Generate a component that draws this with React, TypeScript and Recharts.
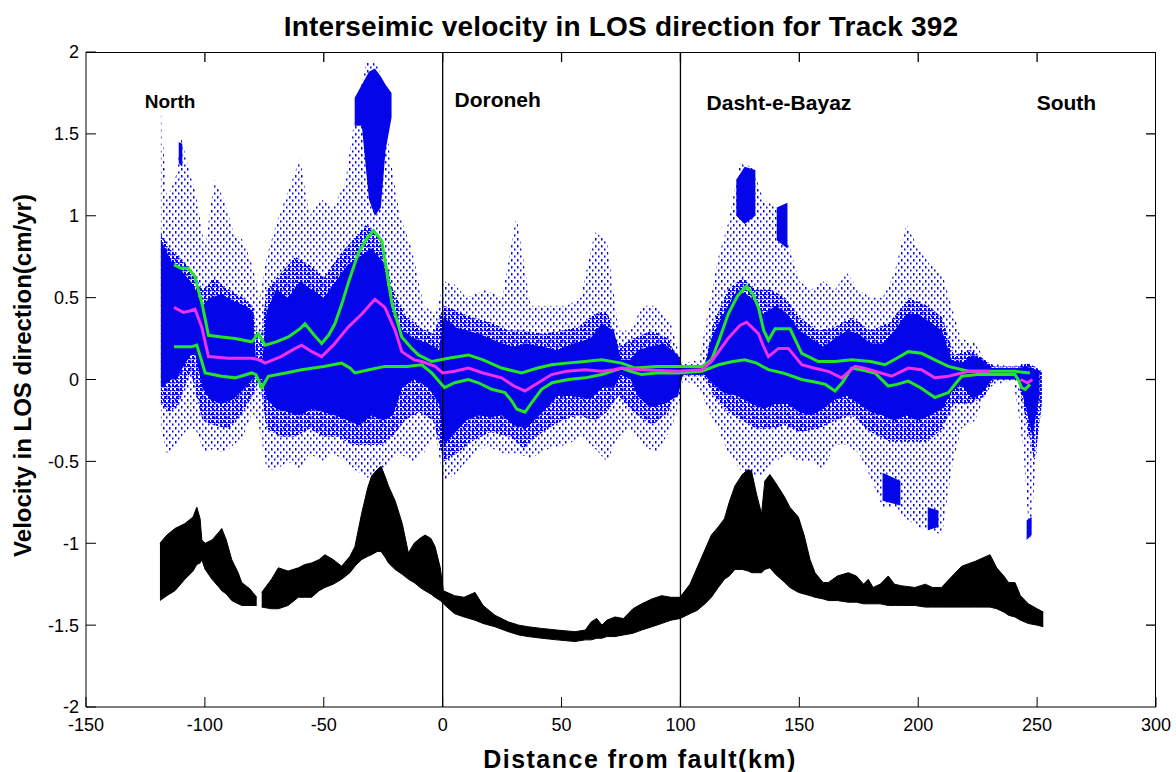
import {
  ComposedChart,
  Area,
  Line,
  XAxis,
  YAxis,
  ReferenceLine,
  ReferenceDot,
} from 'recharts'

// [x km, low, high] for filled bands, [x km, y] for the profile lines
type Band = [number, number, number]
type Pt = [number, number]

const TITLE = 'Interseimic velocity in LOS direction for Track 392'
const X_LABEL = 'Distance from fault(km)'
const Y_LABEL = 'Velocity in LOS direction(cm/yr)'

const xTicks = [-150, -100, -50, 0, 50, 100, 150, 200, 250, 300]
const yTicks = [-2, -1.5, -1, -0.5, 0, 0.5, 1, 1.5, 2]
const X_DOMAIN: [number, number] = [-150, 300]
const Y_DOMAIN: [number, number] = [-2, 2]
const faultLines = [0, 100]

const regionLabels = [
  { name: 'North', x: -125.3, y: 1.7, size: 19 },
  { name: 'Doroneh', x: 5, y: 1.71, size: 21 },
  { name: 'Dasht-e-Bayaz', x: 111, y: 1.69, size: 21 },
  { name: 'South', x: 249.8, y: 1.69, size: 21 },
]

// scattered LOS pixels, outer envelope (sparse dots)
const sparseCloud: Band[] = [
  [-118.5, -0.3, 1.65], [-116, -0.45, 1.1], [-112, -0.4, 1.25], [-110, -0.35, 1.48],
  [-107, -0.3, 1.3], [-104, -0.3, 1.15], [-100, -0.45, 0.8], [-96, -0.42, 1.22],
  [-92, -0.45, 1.1], [-88, -0.4, 0.9], [-84, -0.35, 0.85], [-80, -0.2, 0.7],
  [-77, -0.3, 0.5], [-74, -0.55, 0.75], [-70, -0.55, 0.95], [-65, -0.5, 1.15],
  [-60, -0.55, 1.35], [-56, -0.45, 1.0], [-51, -0.5, 1.1], [-46, -0.45, 1.05],
  [-41, -0.5, 1.2], [-37, -0.55, 1.6], [-32, -0.6, 1.95], [-27, -0.58, 1.92],
  [-22, -0.5, 1.35], [-18, -0.45, 1.0], [-13, -0.5, 0.8], [-8, -0.45, 0.45],
  [-3, -0.35, 0.4], [0.5, -0.62, 0.6], [5, -0.58, 0.58], [10, -0.5, 0.5],
  [18, -0.4, 0.55], [25, -0.45, 0.5], [31, -0.45, 1.0], [37, -0.48, 0.45],
  [45, -0.42, 0.45], [52, -0.4, 0.45], [58, -0.35, 0.5], [64, -0.42, 0.9],
  [69, -0.5, 0.85], [74, -0.35, 0.3], [79, -0.3, 0.3], [84, -0.4, 0.45],
  [90, -0.45, 0.45], [96, -0.3, 0.35], [99.5, -0.15, 0.15], [101, 0, 0.1],
  [108, -0.05, 0.12], [112, -0.2, 0.45], [116, -0.3, 0.75], [120, -0.45, 0.95],
  [125, -0.55, 1.32], [130, -0.6, 1.3], [135, -0.58, 1.1], [140, -0.5, 1.05],
  [145, -0.45, 0.85], [150, -0.5, 0.6], [155, -0.5, 0.55], [160, -0.55, 0.6],
  [165, -0.4, 0.55], [170, -0.4, 0.65], [175, -0.45, 0.55], [180, -0.6, 0.5],
  [185, -0.78, 0.5], [190, -0.78, 0.65], [195, -0.85, 0.95], [200, -0.9, 0.8],
  [205, -0.92, 0.7], [210, -0.95, 0.65], [214, -0.55, 0.45], [218, -0.3, 0.25],
  [224, -0.25, 0.22], [229, -0.05, 0.1], [240, 0, 0.08], [244, -0.4, 0.1],
  [247, -1.0, 0.1], [250, -0.4, 0.06], [252, -0.1, 0.05],
]

// middle-density part of the cloud
const midCloud: Band[] = [
  [-118.5, -0.15, 0.9], [-115, -0.2, 0.8], [-111, -0.15, 0.75], [-106, 0.05, 0.68],
  [-101, -0.25, 0.55], [-96, -0.28, 0.62], [-90, -0.3, 0.55], [-84, -0.2, 0.5],
  [-80, -0.1, 0.45], [-77, 0, 0.2], [-74, -0.3, 0.55], [-68, -0.35, 0.65],
  [-62, -0.35, 0.75], [-56, -0.3, 0.7], [-50, -0.35, 0.62], [-44, -0.35, 0.75],
  [-38, -0.4, 0.85], [-32, -0.4, 0.95], [-26, -0.4, 0.85], [-21, -0.35, 0.55],
  [-16, -0.25, 0.4], [-10, -0.2, 0.32], [-4, -0.25, 0.28], [0.5, -0.5, 0.45],
  [6, -0.45, 0.42], [12, -0.38, 0.38], [20, -0.32, 0.35], [28, -0.35, 0.3],
  [34, -0.42, 0.3], [42, -0.32, 0.28], [50, -0.25, 0.3], [57, -0.22, 0.32],
  [64, -0.25, 0.4], [69, -0.2, 0.42], [74, -0.1, 0.2], [80, -0.2, 0.25],
  [88, -0.28, 0.3], [95, -0.2, 0.25], [100, 0.02, 0.08], [110, 0.02, 0.08],
  [114, -0.1, 0.35], [120, -0.2, 0.55], [126, -0.25, 0.62], [132, -0.3, 0.55],
  [138, -0.3, 0.55], [144, -0.28, 0.5], [150, -0.32, 0.38], [158, -0.3, 0.3],
  [165, -0.25, 0.32], [172, -0.22, 0.38], [180, -0.32, 0.3], [188, -0.38, 0.35],
  [196, -0.38, 0.5], [204, -0.38, 0.45], [210, -0.3, 0.38], [215, -0.15, 0.15],
  [222, -0.15, 0.18], [228, -0.1, 0.12], [232, 0, 0.08], [242, 0, 0.08],
  [246, -0.3, 0.1], [249, -0.5, 0.08], [252, -0.15, 0.05],
]

// dense core of the cloud
const denseCloud: Band[] = [
  [-118.5, -0.05, 0.85], [-116, -0.02, 0.78], [-114, 0, 0.72], [-112, 0, 0.7],
  [-109, 0.08, 0.65], [-106, 0.15, 0.6], [-104, 0.15, 0.55], [-101, -0.05, 0.45],
  [-98, -0.12, 0.5], [-93, -0.15, 0.52], [-88, -0.12, 0.48], [-83, -0.05, 0.45],
  [-80, 0, 0.42], [-78.5, 0.02, 0.12], [-76, 0, 0.1], [-74, -0.12, 0.42],
  [-70, -0.18, 0.55], [-65, -0.2, 0.5], [-60, -0.22, 0.6], [-55, -0.18, 0.55],
  [-50, -0.2, 0.5], [-45, -0.22, 0.6], [-40, -0.25, 0.7], [-35, -0.28, 0.75],
  [-30, -0.22, 0.8], [-25, -0.25, 0.72], [-21, -0.22, 0.4], [-17, -0.05, 0.3],
  [-12, 0, 0.25], [-6, -0.05, 0.22], [-1.5, -0.15, 0.18], [0.5, -0.4, 0.38],
  [5, -0.33, 0.32], [10, -0.25, 0.3], [15, -0.22, 0.28], [20, -0.23, 0.25],
  [25, -0.22, 0.22], [30, -0.28, 0.2], [35, -0.3, 0.22], [42, -0.2, 0.2],
  [48, -0.1, 0.18], [55, -0.1, 0.22], [62, -0.12, 0.25], [67, -0.05, 0.34],
  [72, -0.05, 0.3], [75, 0.03, 0.12], [79, 0, 0.12], [82, -0.1, 0.18],
  [87, -0.17, 0.2], [93, -0.15, 0.22], [99, -0.1, 0.15], [101, 0.03, 0.07],
  [110, 0.03, 0.07], [113, -0.02, 0.25], [118, -0.08, 0.4], [124, -0.1, 0.55],
  [130, -0.15, 0.5], [135, -0.18, 0.4], [140, -0.15, 0.45], [145, -0.15, 0.4],
  [150, -0.2, 0.3], [155, -0.22, 0.25], [160, -0.18, 0.2], [165, -0.12, 0.25],
  [170, -0.1, 0.3], [175, -0.15, 0.28], [180, -0.2, 0.22], [185, -0.22, 0.22],
  [190, -0.25, 0.3], [195, -0.22, 0.4], [200, -0.25, 0.4], [205, -0.22, 0.35],
  [210, -0.18, 0.3], [214, -0.08, 0.12], [218, -0.03, 0.1], [223, -0.12, 0.15],
  [227, -0.08, 0.12], [231, 0, 0.07], [242, 0, 0.07], [245, -0.15, 0.08],
  [248, -0.35, 0.07], [251, -0.1, 0.05],
]

// isolated dense clumps of pixels
const clumpNorth: Band[] = [[-111, 1.32, 1.45], [-109.5, 1.3, 1.44]]
const clumpHigh: Band[] = [
  [-37, 1.55, 1.72], [-34, 1.55, 1.8], [-31, 1.1, 1.88], [-28.5, 1.0, 1.9],
  [-26, 1.05, 1.85], [-24, 1.4, 1.8], [-21.5, 1.6, 1.75],
]
const clumpBayazA: Band[] = [[123.5, 1.0, 1.22], [127, 0.95, 1.3], [131.5, 1.0, 1.28]]
const clumpBayazB: Band[] = [[140.5, 0.85, 1.05], [145, 0.8, 1.08]]
const clumpSouthA: Band[] = [[185, -0.74, -0.57], [192.5, -0.77, -0.62]]
const clumpSouthB: Band[] = [[204, -0.92, -0.78], [208.5, -0.9, -0.8]]
const clumpSouthC: Band[] = [[245.6, -0.98, -0.86], [247.7, -0.95, -0.84]]
const clumps = [clumpNorth, clumpHigh, clumpBayazA, clumpBayazB, clumpSouthA, clumpSouthB, clumpSouthC]

// topography profile (black), with a gap near -77 km
const topoWest: Band[] = [
  [-118.9, -1.35, -1.0], [-116, -1.32, -0.95], [-112.6, -1.29, -0.91], [-108.4, -1.22, -0.88],
  [-105, -1.17, -0.84], [-103.4, -1.13, -0.78], [-102, -1.12, -0.85], [-101.3, -1.1, -0.98],
  [-99.9, -1.16, -1.0], [-97, -1.22, -0.98], [-94, -1.27, -0.93], [-92.9, -1.29, -0.91],
  [-91, -1.31, -0.98], [-88.7, -1.35, -1.1], [-86, -1.37, -1.18], [-84.5, -1.38, -1.24],
  [-81, -1.38, -1.28], [-78.2, -1.38, -1.33],
]
const topoMain: Band[] = [
  [-76.1, -1.39, -1.3], [-72, -1.4, -1.22], [-69.1, -1.4, -1.15], [-65, -1.38, -1.17],
  [-60.7, -1.33, -1.15], [-58, -1.33, -1.13], [-55.1, -1.33, -1.12], [-52, -1.29, -1.1],
  [-49.5, -1.27, -1.07], [-46, -1.25, -1.1], [-42.5, -1.22, -1.14], [-39, -1.18, -1.08],
  [-36.9, -1.14, -1.02], [-34.1, -1.1, -0.82], [-31.5, -1.08, -0.66], [-29.9, -1.07, -0.59],
  [-27.5, -1.05, -0.55], [-25.9, -1.05, -0.53], [-24, -1.09, -0.6], [-22.8, -1.12, -0.65],
  [-20, -1.16, -0.74], [-17, -1.19, -0.88], [-14.4, -1.22, -1.06], [-12, -1.24, -1.0],
  [-9.5, -1.27, -0.97], [-7.4, -1.29, -0.95], [-5, -1.31, -0.97], [-3.2, -1.33, -1.02],
  [-1, -1.35, -1.15], [0.3, -1.37, -1.29], [5, -1.43, -1.32], [9, -1.45, -1.33],
  [13.6, -1.47, -1.3], [17, -1.49, -1.38], [22, -1.51, -1.44], [27.6, -1.54, -1.48],
  [32, -1.56, -1.5], [36, -1.57, -1.51], [41.6, -1.58, -1.52], [48, -1.59, -1.53],
  [55.6, -1.6, -1.54], [60, -1.59, -1.53], [62.5, -1.59, -1.48], [64.8, -1.58, -1.46],
  [67, -1.58, -1.5], [69, -1.57, -1.47], [72.5, -1.57, -1.45], [76, -1.56, -1.46],
  [80, -1.55, -1.4], [83.7, -1.53, -1.37], [88, -1.51, -1.34], [92.1, -1.49, -1.32],
  [96, -1.47, -1.33], [99.8, -1.46, -1.33], [104, -1.43, -1.25], [107, -1.41, -1.15],
  [110.3, -1.37, -1.04], [113, -1.33, -0.95], [115.9, -1.27, -0.9], [118.5, -1.22, -0.85],
  [120.5, -1.2, -0.75], [122.9, -1.16, -0.65], [126, -1.16, -0.58], [128.5, -1.17, -0.55],
  [129.9, -1.18, -0.56], [132, -1.18, -0.7], [134.1, -1.18, -0.82], [135.5, -1.16, -0.62],
  [137.6, -1.15, -0.58], [140, -1.19, -0.63], [143.9, -1.24, -0.72], [146, -1.27, -0.78],
  [149.6, -1.3, -0.84], [152, -1.31, -0.95], [154.5, -1.32, -1.1], [156.6, -1.33, -1.18],
  [160, -1.34, -1.24], [162.2, -1.35, -1.24], [166, -1.35, -1.2], [170.6, -1.36, -1.18],
  [174, -1.36, -1.2], [177, -1.37, -1.25], [179, -1.37, -1.22], [181, -1.37, -1.27],
  [184, -1.37, -1.25], [187.4, -1.38, -1.2], [190, -1.38, -1.25], [193, -1.38, -1.26],
  [198.6, -1.38, -1.27], [203, -1.39, -1.25], [206, -1.39, -1.27], [209.8, -1.39, -1.27],
  [213, -1.39, -1.22], [218.3, -1.39, -1.14], [224, -1.39, -1.11], [230.2, -1.39, -1.07],
  [233, -1.4, -1.15], [236, -1.42, -1.2], [238, -1.44, -1.24], [240.7, -1.45, -1.24],
  [243, -1.47, -1.32], [246.3, -1.49, -1.37], [250, -1.5, -1.4], [252.6, -1.51, -1.42],
]

// green envelope, upper and lower
const greenUpper: Pt[] = [
  [-113, 0.7], [-110, 0.68], [-107, 0.68], [-104.2, 0.63], [-101, 0.45], [-98.5, 0.27],
  [-93, 0.26], [-87.3, 0.25], [-80.3, 0.23], [-77.5, 0.28], [-74.7, 0.21], [-70, 0.23],
  [-64.9, 0.26], [-60, 0.31], [-57.9, 0.34], [-54, 0.27], [-50.9, 0.22], [-48, 0.27],
  [-45.3, 0.34], [-42, 0.48], [-39.7, 0.59], [-35.5, 0.77], [-32, 0.86], [-29.1, 0.91],
  [-25.7, 0.85], [-23.5, 0.66], [-21.4, 0.47], [-17.2, 0.26], [-13, 0.19], [-10.2, 0.15],
  [-4.6, 0.11], [2.4, 0.13], [10.8, 0.15], [17, 0.12], [24.8, 0.07], [33.2, 0.04],
  [40, 0.07], [45.8, 0.09], [52, 0.1], [59.8, 0.11], [66.9, 0.12], [75.3, 0.1],
  [80.9, 0.07], [90, 0.08], [99.1, 0.08], [109, 0.08], [113.1, 0.12], [116.5, 0.25],
  [120.1, 0.4], [124, 0.51], [127.8, 0.57], [130.5, 0.52], [132.8, 0.44], [135, 0.3],
  [137, 0.24], [139.8, 0.31], [146.1, 0.31], [151, 0.16], [158, 0.11], [165, 0.11],
  [172, 0.12], [180, 0.11], [186, 0.09], [191, 0.13], [195.8, 0.17], [201.4, 0.16],
  [207, 0.12], [212.7, 0.08], [221.1, 0.05], [230, 0.05], [240.7, 0.05], [247, 0.04],
]
const greenLower: Pt[] = [
  [-113, 0.2], [-108, 0.2], [-105.5, 0.2], [-103.4, 0.21], [-101.5, 0.12], [-99.9, 0.04],
  [-93, 0.02], [-87.3, 0.01], [-80.3, 0.04], [-78.5, 0.03], [-76.1, -0.05], [-73.3, 0.02],
  [-66, 0.04], [-59.3, 0.06], [-50, 0.08], [-42.5, 0.1], [-39, 0.07], [-36.9, 0.04],
  [-31, 0.06], [-24.3, 0.08], [-15, 0.08], [-8.8, 0.09], [-4.6, 0.04], [0.8, -0.05],
  [5, -0.02], [10.8, 0], [15, -0.02], [20.6, -0.06], [26.2, -0.08], [29, -0.13],
  [31.1, -0.18], [34.6, -0.2], [37, -0.15], [41.6, -0.06], [46, -0.02], [52.9, 0],
  [60, 0.01], [66.9, 0.03], [71, 0.05], [75.3, 0.07], [79, 0.05], [83.7, 0.03],
  [90, 0.04], [99.1, 0.04], [109, 0.05], [116, 0.09], [122, 0.11], [127.1, 0.12],
  [132, 0.1], [137, 0.06], [143, 0.04], [151, 0], [158, -0.02], [161, -0.03],
  [165, -0.07], [168, -0.02], [172, 0.07], [176, 0.06], [181.8, 0.04], [187.4, -0.04],
  [191, -0.03], [195.8, -0.01], [201, -0.05], [207, -0.11], [212.7, -0.08], [216, -0.02],
  [218.3, 0.02], [225, 0.03], [240.7, 0.03], [242, 0], [243.5, -0.05], [245, -0.06],
  [247, -0.03],
]

// magenta running mean
const magentaMean: Pt[] = [
  [-113, 0.44], [-109, 0.41], [-106, 0.42], [-104.2, 0.43], [-101.3, 0.32], [-98.5, 0.14],
  [-90, 0.13], [-80.3, 0.13], [-77, 0.12], [-74.7, 0.1], [-68, 0.14], [-62, 0.19],
  [-59.3, 0.21], [-55, 0.17], [-50.9, 0.14], [-46, 0.21], [-39.7, 0.32], [-34, 0.4],
  [-28.5, 0.49], [-24.3, 0.44], [-20, 0.3], [-17.2, 0.17], [-12, 0.12], [-8.8, 0.11],
  [-3.2, 0.08], [0, 0.04], [5, 0.05], [10.8, 0.07], [17, 0.04], [24.8, 0.01],
  [30, -0.04], [34.6, -0.07], [39, -0.03], [45.8, 0.03], [52, 0.05], [59.8, 0.06],
  [66.9, 0.05], [72, 0.06], [75.3, 0.07], [83.7, 0.06], [99.1, 0.05], [109, 0.06],
  [113.1, 0.11], [120, 0.25], [125, 0.33], [127.8, 0.35], [130, 0.32], [132.8, 0.28],
  [135, 0.2], [137, 0.14], [141.2, 0.19], [145.4, 0.19], [151, 0.09], [156, 0.07],
  [162.2, 0.05], [167.8, 0.01], [173.4, 0.08], [177, 0.07], [181.8, 0.05], [188.8, 0.02],
  [195.8, 0.07], [201.4, 0.06], [207, 0.01], [212.7, 0.02], [221.1, 0.05], [230, 0.05],
]
const magentaEnd: Pt[] = [[243, 0], [246, -0.02], [248, 0]]

const BLUE = '#0505ea'
const GREEN = '#22e622'
const MAGENTA = '#f030f0'
const FONT = '"Liberation Sans", Arial, Helvetica, sans-serif'

// chart frame: plot area sits at left 86, top 52, 1070 x 655
const CHART_W = 1176
const CHART_H = 772
const PLOT = { left: 86, top: 52, width: 1070, height: 655 }

// inward tick length on the top / right edges of the box, in axis units (about 10px)
const TICK_LEN_X = 4.2
const TICK_LEN_Y = 0.061

const toBand = (pts: Band[]) => pts.map(([x, lo, hi]) => ({ x, v: [lo, hi] }))
const toLine = (pts: Pt[]) => pts.map(([x, y]) => ({ x, v: y }))

export default function App() {
  const axisText = { fill: '#000', fontSize: 18 }
  const [xMin, xMax] = X_DOMAIN
  const [yMin, yMax] = Y_DOMAIN

  // inward tick marks on the top and right edges of the axes box
  const boxTicks: Pt[][] = [
    ...xTicks.filter((t) => t > xMin && t < xMax).map((t): Pt[] => [[t, yMax], [t, yMax - TICK_LEN_Y]]),
    ...yTicks.filter((t) => t > yMin && t < yMax).map((t): Pt[] => [[xMax, t], [xMax - TICK_LEN_X, t]]),
  ]

  return (
    <div style={{ position: 'absolute', left: 0, top: 0, width: CHART_W, height: CHART_H, background: '#fff' }}>
      <ComposedChart
        width={CHART_W}
        height={CHART_H}
        margin={{ top: PLOT.top - 1, right: CHART_W - PLOT.left - PLOT.width, bottom: 0, left: 0 }}
        style={{ fontFamily: FONT }}
      >
        <defs>
          <pattern id="speckle" width="6" height="7" patternUnits="userSpaceOnUse">
            <rect x="1" y="0" width="1.5" height="2.5" fill={BLUE} />
            <rect x="4" y="3.5" width="1.5" height="2" fill={BLUE} />
          </pattern>
          <pattern id="speckleMid" width="4" height="4" patternUnits="userSpaceOnUse">
            <rect x="0" y="0" width="2" height="3" fill={BLUE} />
            <rect x="2" y="2" width="1.5" height="1.5" fill={BLUE} />
          </pattern>
        </defs>
        <XAxis
          type="number"
          dataKey="x"
          domain={X_DOMAIN}
          ticks={xTicks}
          height={CHART_H - PLOT.top - PLOT.height}
          tickSize={-10}
          tickMargin={21}
          tick={axisText}
          axisLine={{ stroke: '#000' }}
          tickLine={{ stroke: '#000' }}
          label={{
            value: X_LABEL,
            position: 'insideBottom',
            offset: 4,
            dx: 19,
            fill: '#000',
            fontSize: 25,
            fontWeight: 'bold',
            letterSpacing: 1.5,
          }}
        />
        <XAxis
          xAxisId="top"
          orientation="top"
          type="number"
          dataKey="x"
          domain={X_DOMAIN}
          ticks={xTicks}
          height={1}
          tick={false}
          tickLine={false}
          axisLine={false}
          label={{
            value: TITLE,
            position: 'top',
            offset: 15,
            fill: '#000',
            fontSize: 28,
            fontWeight: 'bold',
            letterSpacing: 0.2,
          }}
        />
        <YAxis
          type="number"
          domain={Y_DOMAIN}
          ticks={yTicks}
          width={PLOT.left}
          tickSize={-10}
          tickMargin={17}
          tick={axisText}
          axisLine={{ stroke: '#000' }}
          tickLine={{ stroke: '#000' }}
          label={{
            value: Y_LABEL,
            position: 'center',
            angle: -90,
            dx: -21,
            dy: -4,
            fill: '#000',
            fontSize: 24,
            fontWeight: 'bold',
          }}
        />

        <Area
          data={toBand(sparseCloud)}
          dataKey="v"
          type="linear"
          stroke="none"
          fill="url(#speckle)"
          fillOpacity={1}
          isAnimationActive={false}
        />
        <Area
          data={toBand(midCloud)}
          dataKey="v"
          type="linear"
          stroke="none"
          fill="url(#speckleMid)"
          fillOpacity={1}
          isAnimationActive={false}
        />
        {clumps.map((c, i) => (
          <Area
            key={`clump-${i}`}
            data={toBand(c)}
            dataKey="v"
            type="linear"
            stroke="none"
            fill={BLUE}
            fillOpacity={1}
            isAnimationActive={false}
          />
        ))}
        <Area
          data={toBand(denseCloud)}
          dataKey="v"
          type="linear"
          stroke="none"
          fill={BLUE}
          fillOpacity={1}
          isAnimationActive={false}
        />
        <Area
          data={toBand(topoWest)}
          dataKey="v"
          type="linear"
          stroke="#000"
          strokeWidth={1}
          fill="#000"
          fillOpacity={1}
          isAnimationActive={false}
        />
        <Area
          data={toBand(topoMain)}
          dataKey="v"
          type="linear"
          stroke="#000"
          strokeWidth={1}
          fill="#000"
          fillOpacity={1}
          isAnimationActive={false}
        />

        {faultLines.map((x) => (
          <ReferenceLine key={`fault-${x}`} x={x} stroke="#000" strokeWidth={1.3} />
        ))}

        {boxTicks.map((seg, i) => (
          <Line
            key={`box-${i}`}
            data={toLine(seg)}
            dataKey="v"
            type="linear"
            stroke="#000"
            strokeWidth={1.3}
            dot={false}
            activeDot={false}
            isAnimationActive={false}
          />
        ))}

        <Line
          data={toLine(greenUpper)}
          dataKey="v"
          type="linear"
          stroke={GREEN}
          strokeWidth={3}
          dot={false}
          activeDot={false}
          isAnimationActive={false}
        />
        <Line
          data={toLine(greenLower)}
          dataKey="v"
          type="linear"
          stroke={GREEN}
          strokeWidth={3}
          dot={false}
          activeDot={false}
          isAnimationActive={false}
        />
        <Line
          data={toLine(magentaMean)}
          dataKey="v"
          type="linear"
          stroke={MAGENTA}
          strokeWidth={3}
          dot={false}
          activeDot={false}
          isAnimationActive={false}
        />
        <Line
          data={toLine(magentaEnd)}
          dataKey="v"
          type="linear"
          stroke={MAGENTA}
          strokeWidth={3}
          dot={false}
          activeDot={false}
          isAnimationActive={false}
        />

        {regionLabels.map((r) => (
          <ReferenceDot
            key={r.name}
            x={r.x}
            y={r.y}
            r={0}
            fill="none"
            stroke="none"
            label={{
              value: r.name,
              position: 'right',
              offset: 0,
              fill: '#000',
              fontSize: r.size,
              fontWeight: 'bold',
            }}
          />
        ))}
      </ComposedChart>
      {/* top and right edges of the axes box */}
      <div
        style={{
          position: 'absolute',
          left: PLOT.left,
          top: PLOT.top,
          width: PLOT.width,
          height: PLOT.height,
          borderTop: '1px solid #000',
          borderRight: '1px solid #000',
          boxSizing: 'border-box',
          pointerEvents: 'none',
        }}
      />
    </div>
  )
}
